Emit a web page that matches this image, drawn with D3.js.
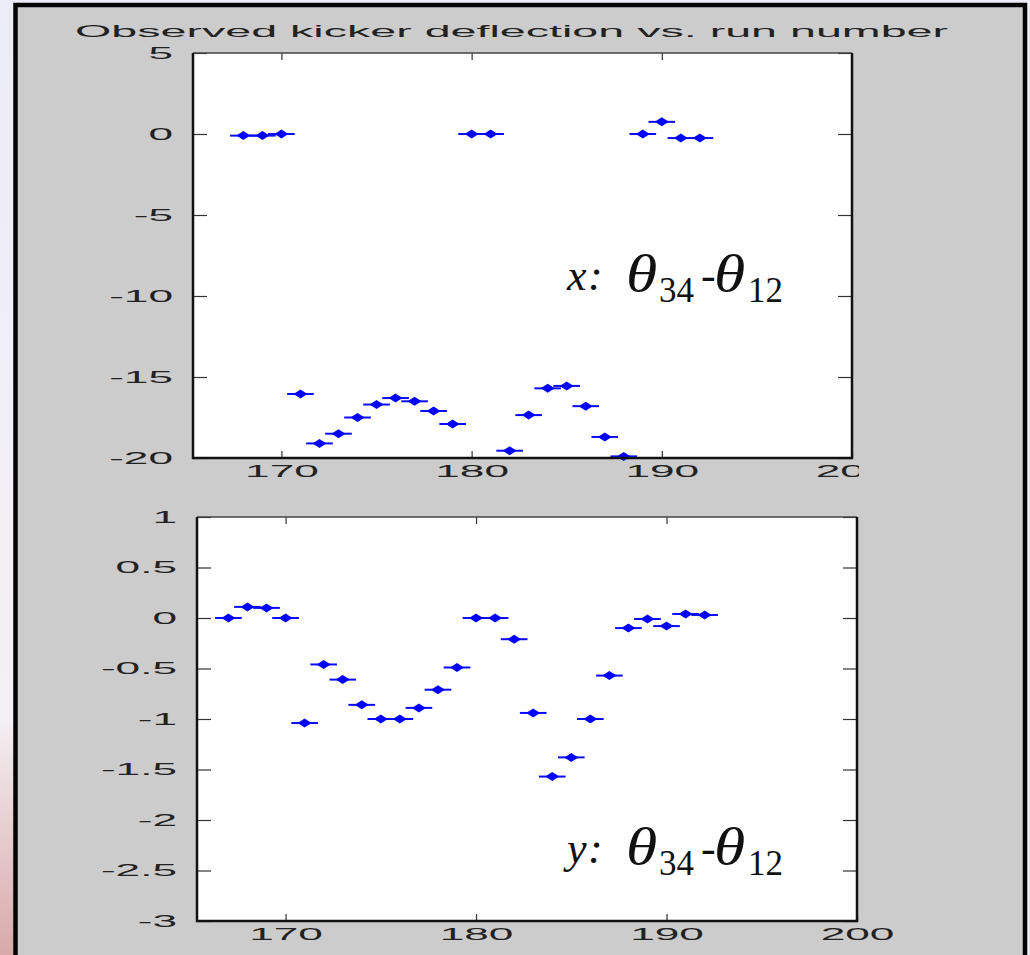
<!DOCTYPE html>
<html>
<head>
<meta charset="utf-8">
<script src="https://cdn.jsdelivr.net/npm/d3@7"></script>
<style>
  html, body { margin: 0; padding: 0; background: #ededf8; }
  svg { display: block; }
</style>
</head>
<body>
<div id="chart"></div>
<script>
// data
var runsX = [168, 169, 170, 171, 172, 173, 174, 175, 176, 177, 178, 179, 180, 181, 182, 183, 184, 185, 186, 187, 188, 189, 190, 191, 192];
var valsX = [-0.1, -0.1, 0, -16.05, -19.1, -18.5, -17.5, -16.7, -16.3, -16.5, -17.1, -17.9, 0, 0, -19.55, -17.35, -15.7, -15.55, -16.8, -18.7, -19.9, 0, 0.75, -0.25, -0.25];

var runsY = [167, 168, 169, 170, 171, 172, 173, 174, 175, 176, 177, 178, 179, 180, 181, 182, 183, 184, 185, 186, 187, 188, 189, 190, 191, 192];
var valsY = [0, 0.11, 0.1, 0, -1.04, -0.46, -0.61, -0.86, -1.0, -1.0, -0.89, -0.71, -0.49, 0, 0, -0.21, -0.94, -1.57, -1.38, -1.0, -0.57, -0.1, -0.01, -0.08, 0.04, 0.03];

var runTicks = [170, 180, 190, 200];
var topTicks = [-20, -15, -10, -5, 0, 5];
var bottomTicks = [-3, -2.5, -2, -1.5, -1, -0.5, 0, 0.5, 1];

var titleText = "Observed kicker deflection vs. run number";

// dimensions
var svgWidth = 1030;
var svgHeight = 955;
var stretch = 2.6;   // the figure's text is stretched sideways

var svg = d3.select("#chart").append("svg")
  .attr("width", svgWidth)
  .attr("height", svgHeight);

// background strip on the left, lavender to pink
var defs = svg.append("defs");
var grad = defs.append("linearGradient")
  .attr("id", "edge").attr("x1", 0).attr("y1", 0).attr("x2", 0).attr("y2", 1);
grad.append("stop").attr("offset", "0%").attr("stop-color", "#ececf8");
grad.append("stop").attr("offset", "75%").attr("stop-color", "#f4f0f4");
grad.append("stop").attr("offset", "100%").attr("stop-color", "#d9a9a9");
svg.append("rect").attr("x", 0).attr("y", 0).attr("width", 14).attr("height", svgHeight)
  .attr("fill", "url(#edge)");

// gray figure window with black frame
svg.append("rect")
  .attr("x", 15.5).attr("y", 5)
  .attr("width", 1009.5).attr("height", 1000)
  .attr("fill", "#cccccc")
  .attr("stroke", "#050505")
  .attr("stroke-width", 4.5);

// title
svg.append("text")
  .attr("x", 75).attr("y", 37)
  .attr("textLength", 873)
  .attr("lengthAdjust", "spacingAndGlyphs")
  .attr("font-family", "Liberation Sans, Arial, sans-serif")
  .attr("font-size", 17)
  .attr("fill", "#222")
  .text(titleText);

defs.append("clipPath").attr("id", "topclip")
  .append("rect").attr("x", 0).attr("y", 0).attr("width", 859).attr("height", 500);

// pieces of the "x: theta34 - theta12" label: offset from start, baseline shift, size, italic, sideways stretch
var labelPieces = [
  {s: ":",  dx: 21,  dy: 0,  size: 44, it: true,  sx: 1},
  {s: "\u03b8", dx: 59,  dy: 1,  size: 53, it: true,  sx: 1.2},
  {s: "34", dx: 92,  dy: 12, size: 35, it: false, sx: 1},
  {s: "-",  dx: 134, dy: 0,  size: 44, it: false, sx: 1},
  {s: "\u03b8", dx: 147, dy: 1,  size: 53, it: true,  sx: 1.2},
  {s: "12", dx: 181, dy: 12, size: 35, it: false, sx: 1}
];

function drawPanel(opt) {
  var x = d3.scaleLinear().domain([165.35, 200]).range([opt.left, opt.right]);
  var y = d3.scaleLinear().domain(opt.domain).range([opt.bottom, opt.top]);

  svg.append("rect")
    .attr("x", opt.left).attr("y", opt.top)
    .attr("width", opt.right - opt.left).attr("height", opt.bottom - opt.top)
    .attr("fill", "#ffffff");

  // left axis with labels
  var left = svg.append("g")
    .attr("transform", `translate(${opt.left},0)`)
    .call(d3.axisLeft(y).tickValues(opt.ticks).tickSize(-14).tickSizeOuter(0).tickFormat(d => String(d)));
  // right axis ticks only
  var right = svg.append("g")
    .attr("transform", `translate(${opt.right},0)`)
    .call(d3.axisRight(y).tickValues(opt.ticks).tickSize(-14).tickSizeOuter(0).tickFormat(""));
  // bottom axis with labels
  var holder = svg.append("g");
  if (opt.clip) holder.attr("clip-path", "url(#" + opt.clip + ")");
  var bottom = holder.append("g")
    .attr("transform", `translate(0,${opt.bottom})`)
    .call(d3.axisBottom(x).tickValues(runTicks).tickSize(-7).tickSizeOuter(0).tickPadding(7));
  // top axis ticks only
  var topAx = svg.append("g")
    .attr("transform", `translate(0,${opt.top})`)
    .call(d3.axisTop(x).tickValues(runTicks.slice(0, 3)).tickSize(-7).tickSizeOuter(0).tickFormat(""));

  [left, right, bottom, topAx].forEach(function(g) {
    g.select(".domain").remove();
    g.selectAll(".tick line").attr("stroke", "#333").attr("stroke-width", 1.2);
    g.selectAll(".tick text")
      .attr("font-family", "Liberation Sans, Arial, sans-serif")
      .attr("font-size", 17)
      .attr("fill", "#222");
  });
  left.selectAll(".tick text")
    .attr("x", -20 / stretch)
    .attr("transform", `scale(${stretch},1)`);
  bottom.selectAll(".tick text")
    .attr("transform", `scale(${stretch},1)`);

  // error bars and markers
  var pts = opt.runs.map((r, i) => ({run: r, val: opt.vals[i]}));
  var marks = svg.append("g");
  marks.selectAll("line")
    .data(pts).enter()
    .append("line")
    .attr("x1", d => x(d.run - 0.7))
    .attr("x2", d => x(d.run + 0.7))
    .attr("y1", d => y(d.val))
    .attr("y2", d => y(d.val))
    .attr("stroke", "#0a0aff")
    .attr("stroke-width", 2);
  marks.selectAll("path")
    .data(pts).enter()
    .append("path")
    .attr("d", "M-7,0L0,-4.5L7,0L0,4.5Z")
    .attr("transform", d => `translate(${x(d.run)},${y(d.val)})`)
    .attr("fill", "#0000ff");

  // frame of the axes box
  svg.append("path")
    .attr("d", `M${opt.left},${opt.top}H${opt.right}`)
    .attr("stroke", "#444").attr("stroke-width", 1.5);
  svg.append("path")
    .attr("d", `M${opt.left},${opt.top}V${opt.bottom}H${opt.right}V${opt.top}`)
    .attr("fill", "none")
    .attr("stroke", "#111").attr("stroke-width", 2.5);

  // annotation
  var lab = svg.append("g")
    .attr("font-family", "Liberation Serif, Times New Roman, serif")
    .attr("fill", "#111");
  lab.append("text")
    .attr("x", opt.labelX).attr("y", opt.labelY)
    .attr("font-size", 44).attr("font-style", "italic")
    .text(opt.axisName);
  labelPieces.forEach(function(p) {
    lab.append("text")
      .attr("transform", `translate(${opt.labelX + p.dx},${opt.labelY + p.dy}) scale(${p.sx},1)`)
      .attr("font-size", p.size)
      .attr("font-style", p.it ? "italic" : "normal")
      .text(p.s);
  });
}

drawPanel({
  left: 193, right: 852, top: 53, bottom: 458,
  domain: [-20, 5], ticks: topTicks,
  runs: runsX, vals: valsX,
  clip: "topclip",
  axisName: "x", labelX: 567, labelY: 290
});

drawPanel({
  left: 197, right: 857, top: 517, bottom: 921,
  domain: [-3, 1], ticks: bottomTicks,
  runs: runsY, vals: valsY,
  axisName: "y", labelX: 567, labelY: 863
});
</script>
</body>
</html>
